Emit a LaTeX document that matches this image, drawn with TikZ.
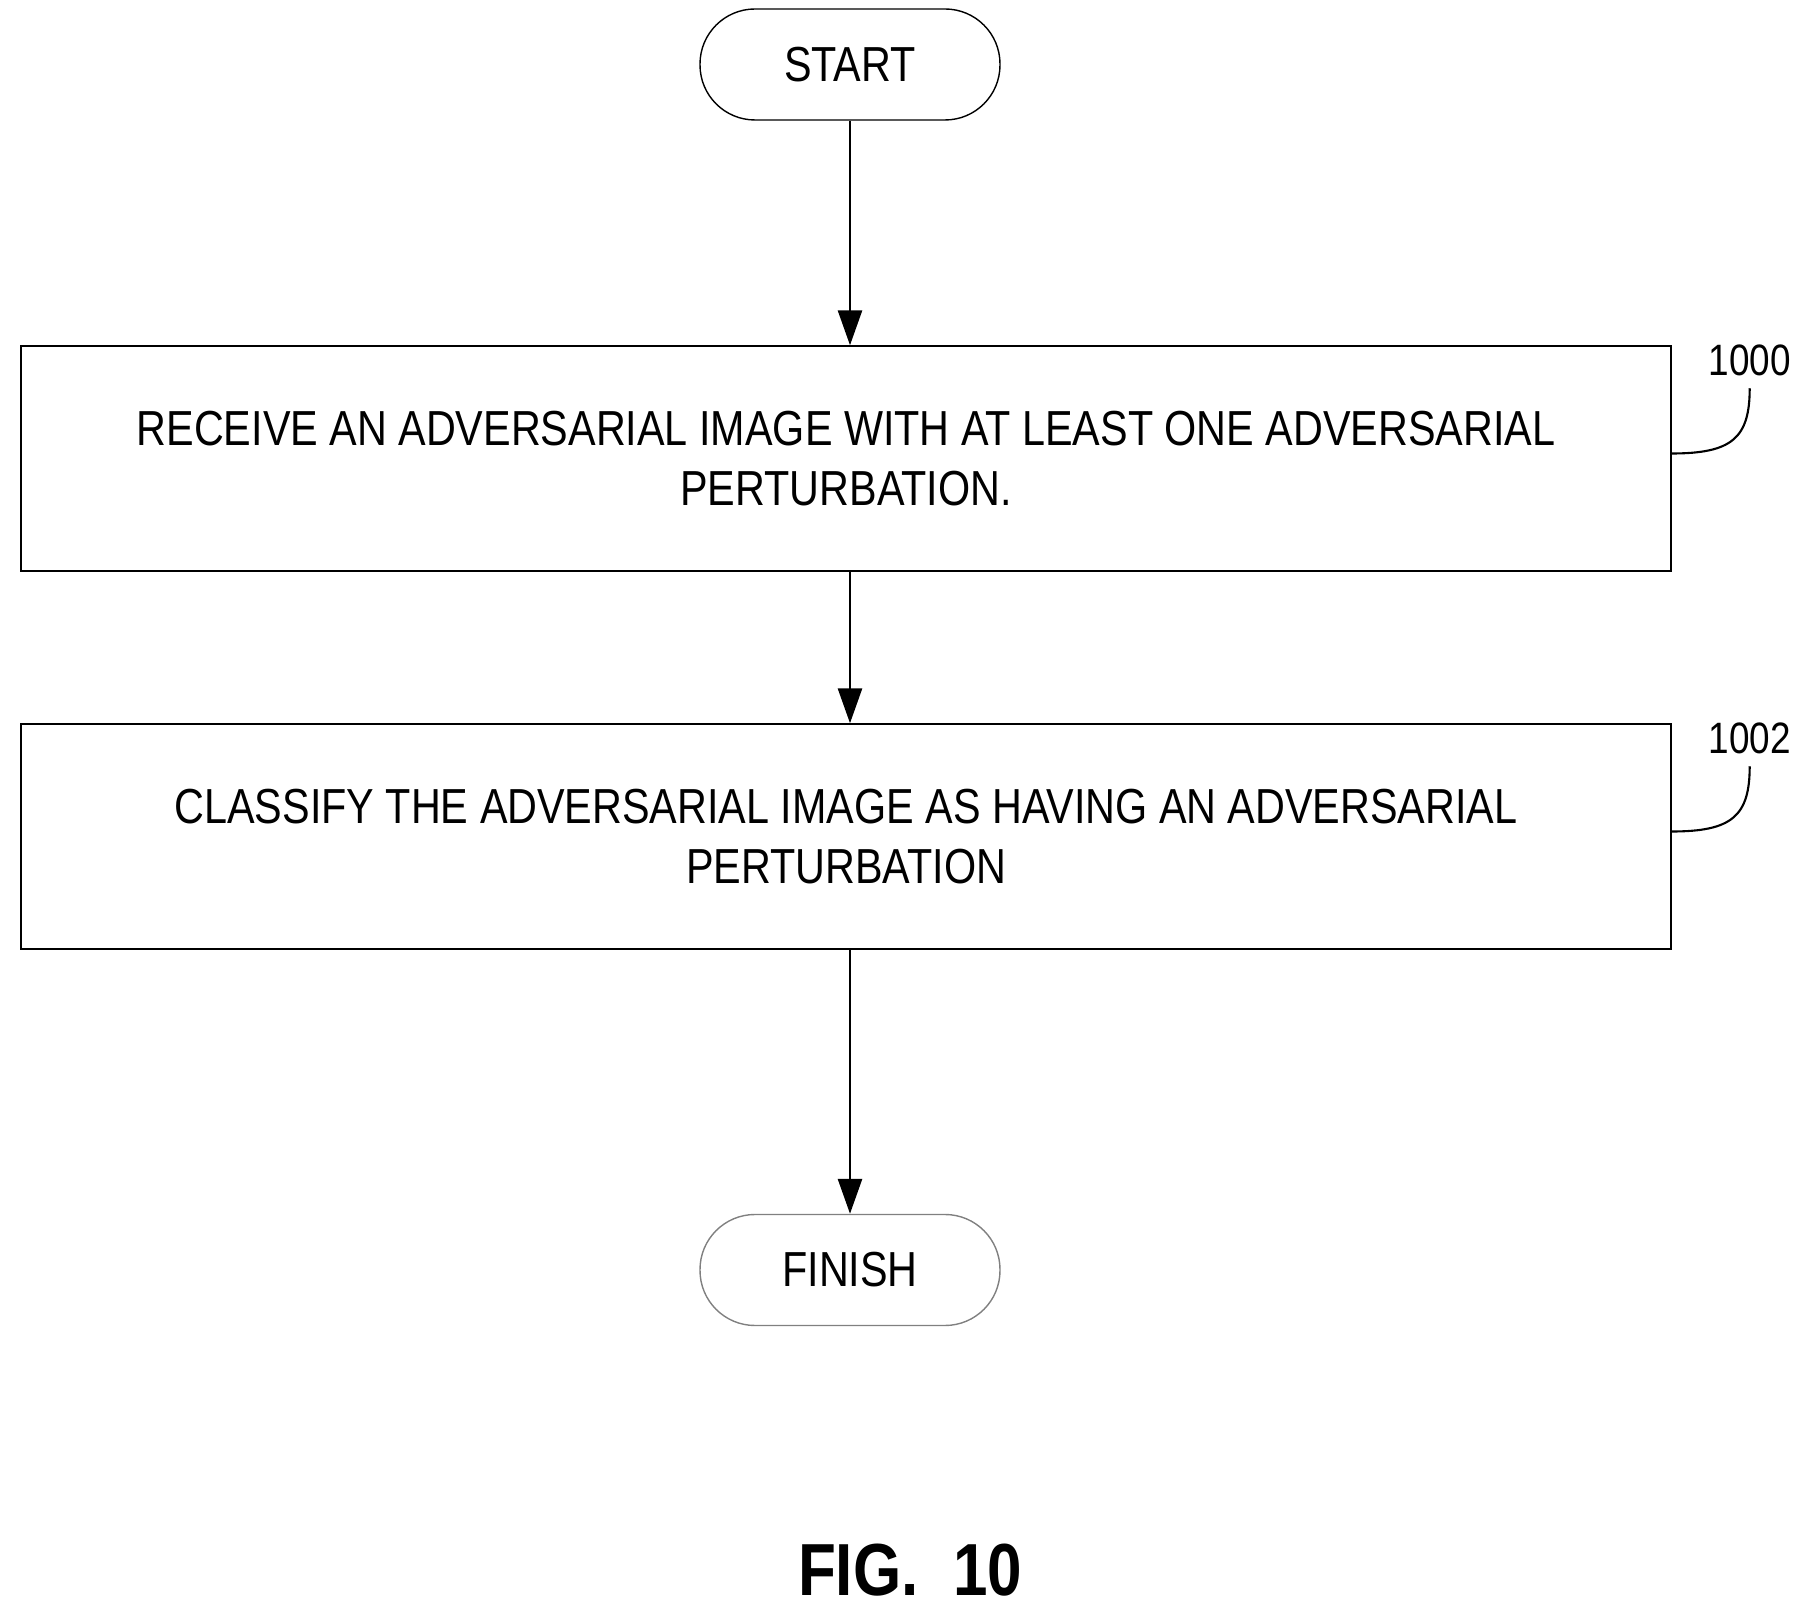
\documentclass[tikz,border=0pt]{standalone}
\usepackage{fontspec}
\setmainfont{Liberation Sans}[FakeStretch=0.84]
\usetikzlibrary{positioning,arrows.meta}
\tikzstyle{terminal}=[draw,rounded corners=0.55cm,minimum width=3.0cm,
    minimum height=1.11cm,inner sep=0pt,font=\fontsize{14}{17}\selectfont]
\tikzstyle{process box}=[draw,thin,minimum width=16.5cm,minimum height=2.25cm,
    inner sep=0pt,align=center,font=\fontsize{14}{17}\selectfont]
\tikzstyle{flow}=[thick,-{Triangle[length=3.5mm,width=2.4mm]}]
\tikzstyle{leader}=[semithick]
\newcommand{\reflabel}[2]{
    \node[font=\fontsize{12.5}{15}\selectfont] (l#2) at ([shift={(0.78cm,-0.15cm)}]#1.north east) {#2};
    \draw[leader] ([yshift=0.05cm]#1.east)
        .. controls +(0.6,0) and ([yshift=-0.5cm]l#2.south) .. (l#2.south);
}

\begin{document}
\begin{tikzpicture}
    \useasboundingbox (0,0) rectangle (18.04,-16.15);
    \node[terminal] (start) at (8.5,-0.645) {START};
    %
    \node[process box] (s1000) at (8.46,-4.585)
        {RECEIVE AN ADVERSARIAL IMAGE WITH AT LEAST ONE ADVERSARIAL\\PERTURBATION.};
    \node[process box] (s1002) at (8.46,-8.365)
        {CLASSIFY THE ADVERSARIAL IMAGE AS HAVING AN ADVERSARIAL\\PERTURBATION};
    \node[terminal,draw=gray] (finish) at (8.5,-12.7) {FINISH};
    %
    \draw[flow] (start) -- (start |- s1000.north);
    \draw[flow] (start |- s1000.south) -- (start |- s1002.north);
    \draw[flow] (start |- s1002.south) -- (finish);
    %
    \reflabel{s1000}{1000}
    \reflabel{s1002}{1002}
    %
    \node[font=\fontsize{21}{25}\bfseries\selectfont] (fig) at (9.1,-15.7) {FIG.\ \ 10};
\end{tikzpicture}
\end{document}
